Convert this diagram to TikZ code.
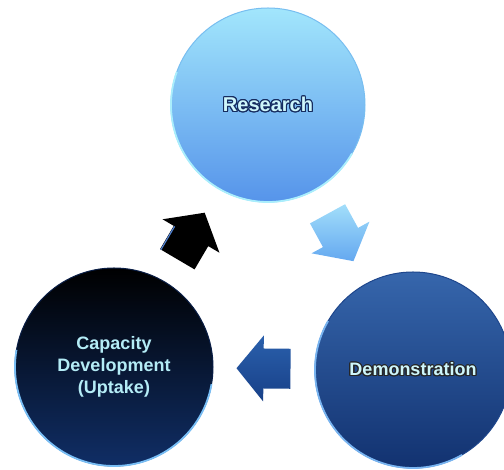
\documentclass[tikz,border=0pt]{standalone}
\usepackage{fontspec}
\setmainfont{Liberation Sans}
\usepackage[copies]{contour}
\contourlength{1.1pt}
\contournumber{16}
\usetikzlibrary{calc}

\definecolor{resTop}{RGB}{162,230,252}
\definecolor{resMid}{RGB}{122,192,246}
\definecolor{resBot}{RGB}{86,148,234}
\definecolor{resRim}{RGB}{120,190,240}
\definecolor{resHi}{RGB}{170,238,252}
\definecolor{resInk}{RGB}{22,44,96}
\definecolor{demTop}{RGB}{54,102,172}
\definecolor{demBot}{RGB}{18,50,112}
\definecolor{demRim}{RGB}{30,70,140}
\definecolor{demHi}{RGB}{120,180,240}
\definecolor{capTop}{RGB}{0,0,0}
\definecolor{capMid}{RGB}{2,6,24}
\definecolor{capBot}{RGB}{16,46,102}
\definecolor{capRim}{RGB}{10,30,70}
\definecolor{capHi}{RGB}{120,190,245}
\definecolor{labelInk}{RGB}{206,246,251}
\definecolor{capInk}{RGB}{180,236,246}
\definecolor{arrLightTop}{RGB}{162,222,250}
\definecolor{arrLightBot}{RGB}{100,168,240}
\definecolor{arrDarkTop}{RGB}{42,96,172}
\definecolor{arrDarkBot}{RGB}{24,64,136}
\definecolor{arrEdge}{RGB}{80,130,210}

% Block arrow halfway between two stage nodes, pointing from #2 to #3
\newcommand\cyclearrow[3]{%
  \coordinate (am) at ($(#2)!0.5!(#3)$);
  \coordinate (at) at ($(am)!27pt!(#3)$);
  \coordinate (ab) at ($(am)!-27pt!(#3)$);
  \path[#1] ($(ab)!20pt!90:(am)$) -- ($(am)!20pt!90:(at)$)
    -- ($(am)!33pt!90:(at)$) -- (at) -- ($(am)!33pt!-90:(at)$)
    -- ($(am)!20pt!-90:(at)$) -- ($(ab)!20pt!-90:(am)$) -- cycle;
}

\begin{document}
\begin{tikzpicture}[x=1pt,y=1pt,
  stage/.style={circle, inner sep=0pt, outer sep=0pt, line width=1pt,
    align=center, font=\bfseries\fontsize{18}{22}\selectfont},
  rimhi/.style={line width=1.8pt}]
\useasboundingbox (0,0) rectangle (504,470);
\clip (0,0) rectangle (504,470);

% three stages of the cycle
\node[stage, minimum size=194pt, top color=resTop, middle color=resMid,
  bottom color=resBot, draw=resRim, text=labelInk,
  font=\bfseries\fontsize{20}{24}\selectfont]
  (res) at (268,365) {\contour{resInk}{Research}};
\node[stage, minimum size=196pt, top color=demTop, bottom color=demBot,
  draw=demRim, text=labelInk]
  (dem) at (413,100) {\contour{black!85}{Demonstration}};
\node[stage, minimum size=198pt, top color=capTop, middle color=capMid,
  bottom color=capBot, draw=capRim, text=capInk]
  (cap) at (114,103) {Capacity\\Development\\(Uptake)};

% glossy rims on the lower left of each stage
\draw[rimhi, resHi] (res.160) arc[start angle=160, end angle=330, radius=97pt];
\draw[rimhi, demHi] (dem.150) arc[start angle=150, end angle=300, radius=98pt];
\draw[rimhi, capHi] (cap.170) arc[start angle=170, end angle=350, radius=99pt];

% arrows between the stages
\cyclearrow{top color=arrLightTop, bottom color=arrLightBot}{res}{dem}
\cyclearrow{top color=arrDarkTop, bottom color=arrDarkBot}{dem}{cap}
\cyclearrow{fill=black}{cap}{res}
\draw[arrEdge, line width=1.2pt] ($(ab)!19pt!90:(am)$) -- ($(am)!19pt!90:(at)$);
\end{tikzpicture}
\end{document}
